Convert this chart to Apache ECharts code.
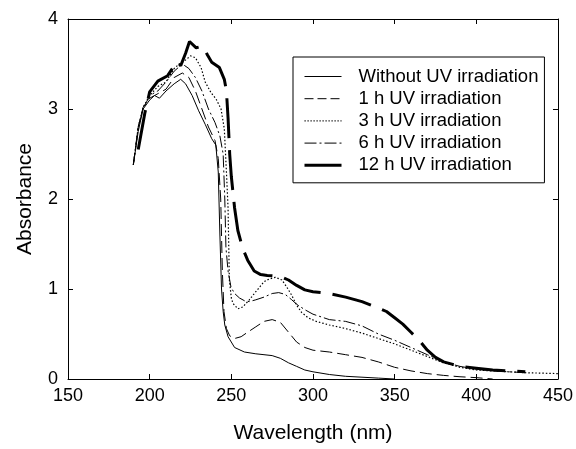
<!DOCTYPE html>
<html>
<head>
<meta charset="utf-8">
<script src="https://cdn.jsdelivr.net/npm/echarts@6/dist/echarts.min.js"></script>
<style>
html,body{margin:0;padding:0;background:#fff;}
#chart{width:576px;height:449px;}
</style>
</head>
<body>
<div id="chart"></div>
<script>
const seriesNames = ['Without UV irradiation','1 h UV irradiation','3 h UV irradiation','6 h UV irradiation','12 h UV irradiation'];
const xTicks = [150,200,250,300,350,400,450];
const yTicks = [0,1,2,3,4];

const wl0  = [190,193,196,200,203,206,210,215,219,222,226,230,234,238,240.5,242,243,244,245,246,248,252,258,265,270,275,280,285,290,295,300,310,320,330,340,350];
const abs0 = [2.38,2.75,3.0,3.1,3.15,3.12,3.2,3.28,3.33,3.28,3.15,2.98,2.83,2.67,2.6,2.3,1.6,1.0,0.75,0.6,0.47,0.35,0.3,0.28,0.27,0.26,0.23,0.18,0.14,0.1,0.08,0.05,0.03,0.02,0.01,0];

const wl1  = [190,193,196,200,203,206,210,215,220,224,228,232,236,240,242,243.5,244.5,245.5,247,249,252,256,260,265,270,275,280,285,290,295,300,310,320,330,340,350,360,370,380,390,400,410];
const abs1 = [2.38,2.8,3.02,3.12,3.15,3.18,3.22,3.35,3.4,3.35,3.2,3.0,2.8,2.65,2.45,2.0,1.2,0.75,0.56,0.48,0.45,0.47,0.52,0.58,0.64,0.66,0.63,0.52,0.41,0.35,0.32,0.3,0.27,0.24,0.19,0.13,0.09,0.06,0.04,0.025,0.015,0];

const wl3  = [190,193,196,200,205,210,215,218,221,225,228,231.5,234,237.6,240.7,243.7,245.7,247,248,248.8,250,251,254,257,261,265,270,273,277,281,284,287,290,293,297,302,310,320,330,340,350,360,370,380,390,400,410,420,430,440,450];
const abs3 = [2.38,2.8,3.02,3.15,3.25,3.3,3.45,3.5,3.53,3.59,3.57,3.46,3.3,3.18,3.11,3.0,2.78,2.3,1.9,1.1,0.9,0.84,0.78,0.8,0.88,0.97,1.08,1.11,1.13,1.1,1.02,0.93,0.82,0.74,0.68,0.64,0.6,0.56,0.51,0.45,0.39,0.32,0.25,0.18,0.13,0.1,0.09,0.08,0.07,0.065,0.06];

const wl6  = [190,193,196,200,205,210,215,220,224,228,232,236,240,243,245,246,246.7,248,249.8,252,255,258,261,265,270,275,279,283,287,290,295,300,310,320,330,340,350,360,370,380,390,400,410,420,430];
const abs6 = [2.38,2.8,3.0,3.15,3.2,3.3,3.42,3.5,3.45,3.35,3.2,3.0,2.85,2.7,2.5,2.0,1.46,1.2,1.02,0.95,0.9,0.87,0.86,0.88,0.91,0.95,0.96,0.94,0.88,0.83,0.77,0.72,0.66,0.64,0.59,0.5,0.43,0.35,0.27,0.19,0.14,0.11,0.09,0.08,0.07];

const wl12  = [193,197,200,205,211,215,217,219,222,224.4,228.5,232.5,235.4,238,242.7,245.7,247,248,249,250,252,254,257,260,264,268,272,280,285,290,295,300,310,320,330,340,345,350,355,360,365,370,375,380,390,400,410,420,430];
const abs12 = [2.55,2.95,3.19,3.31,3.37,3.48,3.53,3.48,3.62,3.75,3.68,3.7,3.6,3.52,3.46,3.33,3.2,2.9,2.5,2.25,1.9,1.65,1.45,1.32,1.2,1.16,1.15,1.14,1.1,1.04,0.99,0.97,0.95,0.91,0.86,0.79,0.75,0.68,0.61,0.52,0.43,0.32,0.24,0.19,0.14,0.12,0.1,0.09,0.08];

const zip = (a, b) => a.map((x, i) => [x, b[i]]);
const allData = [zip(wl0,abs0), zip(wl1,abs1), zip(wl3,abs3), zip(wl6,abs6), zip(wl12,abs12)];
const dashes = ['solid', [12,5], [1.5,2], [12,3,2,3], [40,12]];
const legendDashes = ['solid', [9,4], [1.2,1.8], [12,3,2,3], 'solid'];
const widths = [1, 1, 1.2, 1, 3];

const FONT = 'Liberation Sans, Arial, sans-serif';
const chart = echarts.init(document.getElementById('chart'), null, {renderer:'canvas'});

const axisCommon = {
  type: 'value',
  splitLine: {show:false},
  axisLine: {show:true, onZero:false, lineStyle:{color:'#000', width:1}},
  axisTick: {show:true, inside:true, length:5, lineStyle:{color:'#000', width:1}}
};

chart.setOption({
  animation: false,
  backgroundColor: '#fff',
  grid: {left:68, right:16, top:19, bottom:66, containLabel:false},
  legend: {
    orient: 'vertical',
    left: 293, top: 57,
    padding: [10, 6, 8, 10],
    itemWidth: 37, itemHeight: 18, itemGap: 3.2,
    borderColor: '#000', borderWidth: 1,
    backgroundColor: '#fff',
    itemStyle: {opacity: 0},
    textStyle: {fontFamily: FONT, fontSize: 18.5, color:'#000', padding:[0,0,0,12]},
    data: seriesNames.map((n, i) => ({
      name: n,
      lineStyle: {color:'#000', width: widths[i], type: legendDashes[i]}
    }))
  },
  xAxis: [
    Object.assign({}, axisCommon, {
      min: xTicks[0], max: xTicks[xTicks.length-1], interval: 50, position:'bottom',
      name: 'Wavelength (nm)', nameLocation:'middle', nameGap: 44,
      nameTextStyle: {fontFamily: FONT, fontSize: 21, color:'#000'},
      axisLabel: {fontFamily: FONT, fontSize: 18, color:'#000', margin: 8, showMinLabel:true, showMaxLabel:true}
    }),
    Object.assign({}, axisCommon, {
      min: xTicks[0], max: xTicks[xTicks.length-1], interval: 50, position:'top',
      axisLabel: {show:false}
    })
  ],
  yAxis: [
    Object.assign({}, axisCommon, {
      min: yTicks[0], max: yTicks[yTicks.length-1], interval: 1, position:'left',
      name: 'Absorbance', nameLocation:'middle', nameGap: 32, nameRotate: 90,
      nameTextStyle: {fontFamily: FONT, fontSize: 21, color:'#000'},
      axisLabel: {fontFamily: FONT, fontSize: 18, color:'#000', margin: 10}
    }),
    Object.assign({}, axisCommon, {
      min: yTicks[0], max: yTicks[yTicks.length-1], interval: 1, position:'right',
      axisLabel: {show:false}
    })
  ],
  series: seriesNames.map((n, i) => ({
    name: n,
    type: 'line',
    xAxisIndex: 0, yAxisIndex: 0,
    data: allData[i],
    symbol: 'none',
    smooth: false,
    color: '#000',
    lineStyle: {color:'#000', width: widths[i], type: dashes[i]},
    z: 2 + i
  }))
});
</script>
</body>
</html>
